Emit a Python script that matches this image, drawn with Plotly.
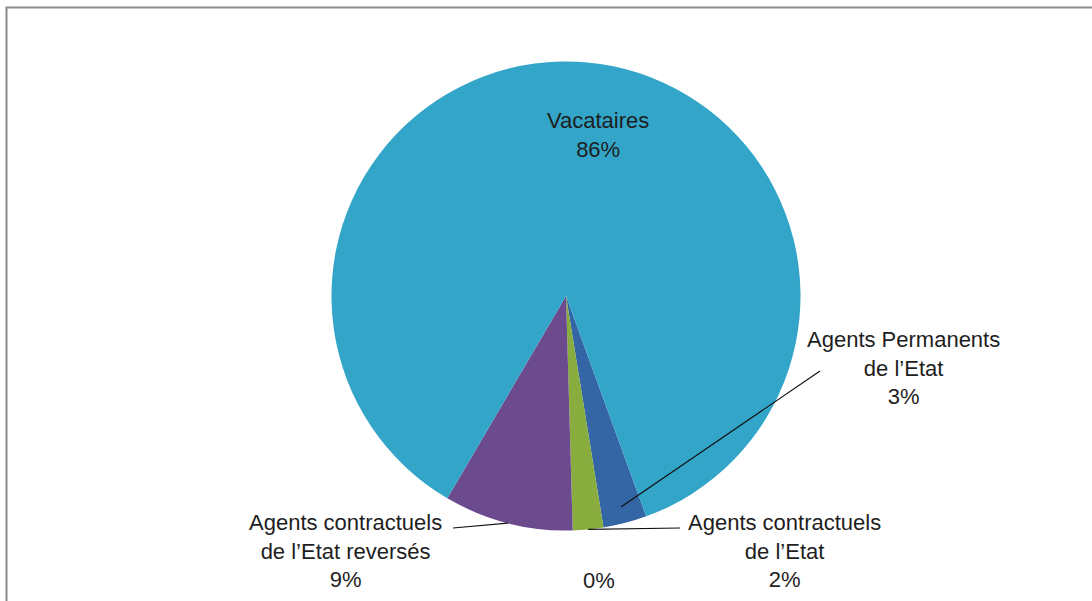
import math
import plotly.graph_objects as go

# ---- data ----
categories = ["Agents Permanents<br>de l’Etat", "", "Agents contractuels<br>de l’Etat",
              "Agents contractuels<br>de l’Etat reversés", "Vacataires"]
values = [3.0, 0.0, 2.1, 8.9, 86.0]
colors = ["#3465A4", "#B5463F", "#88AC3E", "#6B4A8E", "#32A5C9"]

W, H = 1092, 601
CX, CY, R = 566, 296, 234.5
ROT = 160  # first slice start angle, clockwise from 12 o'clock

def px(x):
    return x / W

def py(y):
    return 1 - y / H

total = sum(values)
pct = [f"{round(v / total * 100)}%" for v in values]

fig = go.Figure(go.Pie(
    labels=categories, values=values, sort=False, direction="clockwise",
    rotation=ROT, marker=dict(colors=colors, line=dict(width=0)),
    textinfo="none", hoverinfo="label+percent", showlegend=False,
    domain=dict(x=[px(CX - R), px(CX + R)], y=[py(CY + R), py(CY - R)]),
))

# slice mid angles (clockwise from top) computed from data
mids = []
acc = ROT
for v in values:
    span = v / total * 360
    mids.append(acc + span / 2)
    acc += span

def slice_point(i, frac):
    a = math.radians(mids[i])
    return CX + frac * R * math.sin(a), CY - frac * R * math.cos(a)

font = dict(family="Liberation Sans Narrow, Arial Narrow, Liberation Sans, sans-serif",
            size=22, color="#1E1E1E")

# label placements (px)
label_pos = {0: (903, 368), 1: (599, 580), 2: (784, 551), 3: (345, 551), 4: (598, 135)}
leader_end = {0: (820, 371), 2: (680, 528), 3: (453, 528)}
leader_frac = {0: 0.93, 2: 1.0, 3: 1.0}

annotations = []
for i, (lx, ly) in label_pos.items():
    txt = pct[i] if categories[i] == "" else f"{categories[i]}<br>{pct[i]}"
    annotations.append(dict(x=px(lx), y=py(ly), xref="paper", yref="paper",
                            text=txt, showarrow=False, font=font,
                            xanchor="center", yanchor="middle", align="center"))

shapes = []
for i, (ex, ey) in leader_end.items():
    sx, sy = slice_point(i, leader_frac[i])
    shapes.append(dict(type="line", xref="paper", yref="paper",
                       x0=px(sx), y0=py(sy), x1=px(ex), y1=py(ey),
                       line=dict(color="#111111", width=1.2)))

# chart frame
shapes.append(dict(type="rect", xref="paper", yref="paper",
                   x0=px(6.5), y0=-0.05, x1=1.05, y1=py(7.5),
                   line=dict(color="#8A8A8A", width=2), fillcolor="rgba(0,0,0,0)"))

fig.update_layout(width=W, height=H, margin=dict(l=0, r=0, t=0, b=0),
                  paper_bgcolor="white", plot_bgcolor="white",
                  annotations=annotations, shapes=shapes)

fig.write_html("out.html", config=dict(displayModeBar=False),
               post_script="document.body.style.margin='0';document.body.style.overflow='hidden';")
